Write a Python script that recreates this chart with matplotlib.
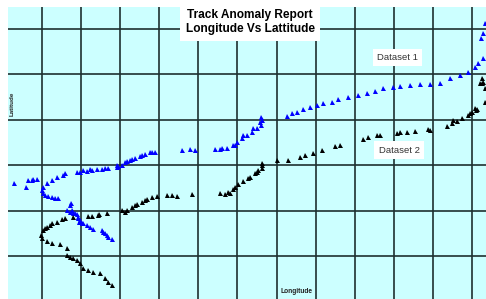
import numpy as np
import matplotlib
matplotlib.use("Agg")
import matplotlib.pyplot as plt
from matplotlib.ticker import MultipleLocator

plt.rcParams['font.family'] = ['Liberation Sans', 'DejaVu Sans']

# grid-cell units (one cell = one grid division)
lon1 = [-0.716, -0.409, -0.358, -0.256, -0.230, -0.128,
        0.537, 0.384, 0.256, 0.128, 0.026, 0.000, 0.026, 0.077, 0.153, 0.256,
        0.333, 0.409, 0.588,
        0.640, 0.716, 0.742, 0.716, 0.767, 0.793, 0.844, 0.895, 0.921, 0.921,
        0.946, 0.972, 1.023, 1.049, 1.151, 1.228, 1.305, 1.535, 1.560, 1.612,
        1.663, 1.688, 1.791, 0.895, 0.972, 1.049, 1.151, 1.228, 1.279, 1.407,
        1.535, 1.612, 1.688, 1.919, 1.919, 1.944, 2.046, 2.123, 2.174, 2.251,
        2.302, 2.379, 2.507, 2.558, 2.635, 2.763, 2.814, 2.891, 3.581, 3.786,
        3.914, 4.425, 4.553, 4.604, 4.732, 4.886, 4.937, 4.988, 5.116, 5.142,
        5.244, 5.372, 5.397, 5.500, 5.576, 5.602, 5.628, 5.602, 6.267, 6.395,
        6.523, 6.676, 6.855, 7.035, 7.188, 7.418, 7.572, 7.827, 8.083, 8.314,
        8.518, 8.723, 8.979, 9.158, 9.413, 9.669, 9.925, 10.181, 10.437, 10.692,
        10.897, 11.076, 11.153, 11.230, 11.281, 11.332, 11.281]
lat1 = [1.608, 1.520, 1.674, 1.674, 1.696, 1.696,
        1.784, 1.740, 1.674, 1.608, 1.520, 1.454, 1.388, 1.344, 1.322, 1.300,
        1.278, 1.278, 1.828,
        1.013, 1.124, 1.168, 0.969, 1.013, 0.947, 0.947, 0.925, 0.859, 0.837,
        0.749, 0.793, 0.727, 0.727, 0.683, 0.639, 0.595, 0.573, 0.529, 0.507,
        0.463, 0.419, 0.375, 1.851, 1.851, 1.895, 1.873, 1.917, 1.895, 1.917,
        1.917, 1.939, 1.939, 1.961, 2.005, 1.983, 2.005, 2.071, 2.093, 2.115,
        2.137, 2.159, 2.203, 2.225, 2.247, 2.291, 2.291, 2.291, 2.335, 2.357,
        2.335, 2.357, 2.357, 2.379, 2.379, 2.445, 2.445, 2.511, 2.600, 2.666,
        2.666, 2.732, 2.820, 2.820, 2.952, 2.886, 2.996, 3.062, 3.084, 3.150,
        3.172, 3.238, 3.282, 3.327, 3.371, 3.393, 3.459, 3.503, 3.547, 3.591,
        3.635, 3.701, 3.723, 3.745, 3.767, 3.789, 3.789, 3.811, 3.921, 3.987,
        4.054, 4.164, 4.252, 4.803, 4.913, 5.133, 4.362]

lon2 = [1.663, 1.432, 1.279, 1.177, 0.793, 0.588, 0.512, 0.384, 0.256, 0.205,
        0.128, 0.077, 0.026, -0.026, 0.000, 0.128, 0.256, 0.460, 0.640, 0.640,
        0.716, 0.793, 0.895, 0.972, 1.049, 1.177, 1.305, 1.484, 1.612, 1.688,
        1.791, 1.458, 2.046, 2.123, 2.174, 2.302, 2.379, 2.430, 2.558, 2.635,
        2.686, 2.814, 2.942, 3.198, 3.325, 3.453, 3.837, 4.553, 4.681, 4.758,
        4.809, 4.886, 4.937, 5.014, 5.142, 5.270, 5.321, 5.449, 5.500, 5.525,
        5.628, 5.628, 5.628, 6.011, 6.293, 6.600, 6.728, 6.932, 7.162, 7.495,
        7.623, 8.211, 8.339, 8.569, 8.646, 9.081, 9.158, 9.337, 9.541, 9.874,
        9.925, 10.360, 10.488, 10.616, 10.744, 10.897, 10.999, 11.127, 11.255, 11.281,
        11.255, 11.332, 11.076, 11.204, 11.332, 11.102, 10.948, 10.514]
lat2 = [0.947, 0.903, 0.881, 0.881, 0.859, 0.837, 0.815, 0.749, 0.727, 0.683,
        0.639, 0.617, 0.573, 0.463, 0.397, 0.330, 0.286, 0.264, 0.176, 0.022,
        -0.022, -0.044, -0.088, -0.154, -0.264, -0.308, -0.352, -0.375, -0.485, -0.573,
        -0.639, 0.925, 1.013, 0.969, 1.013, 1.079, 1.124, 1.146, 1.190, 1.234,
        1.256, 1.300, 1.322, 1.344, 1.344, 1.322, 1.366, 1.388, 1.366, 1.410,
        1.388, 1.476, 1.520, 1.586, 1.652, 1.718, 1.740, 1.829, 1.851, 1.895,
        1.939, 2.005, 2.049, 2.115, 2.115, 2.181, 2.225, 2.269, 2.335, 2.423,
        2.445, 2.578, 2.622, 2.666, 2.666, 2.710, 2.732, 2.732, 2.754, 2.798,
        2.776, 2.864, 2.930, 2.974, 3.040, 3.106, 3.172, 3.238, 3.811, 3.833,
        3.921, 3.393, 3.260, 3.811, 3.701, 3.216, 3.150, 2.996]

fig = plt.figure(figsize=(4.86, 2.99), dpi=100)
ax = fig.add_axes([8 / 486, 0, 478 / 486, 292 / 299])
ax.set_facecolor('#ccffff')

ax.plot(lon1, lat1, '^', color='#0000ff', markersize=3.6, markeredgewidth=0)
ax.plot(lon2, lat2, '^', color='black', markersize=3.6, markeredgewidth=0)

ax.set_xlim(-0.87, 11.36)
ax.set_ylim(-0.947, 5.485)
ax.xaxis.set_major_locator(MultipleLocator(1))
ax.yaxis.set_major_locator(MultipleLocator(1))
ax.grid(True, color='#1e3030', linewidth=1.2)
ax.set_axisbelow(True)
ax.tick_params(length=0, labelbottom=False, labelleft=False)
for s in ax.spines.values():
    s.set_visible(False)

fig.text(250 / 486, 1 - 22 / 299, 'Track Anomaly Report\nLongitude Vs Lattitude',
         ha='center', va='center', fontsize=8.6, fontweight='bold', linespacing=1.25,
         bbox=dict(facecolor='white', edgecolor='none', pad=4))
ax.text(0.815, 0.826, 'Dataset 1', transform=ax.transAxes, ha='center', va='center',
        fontsize=6.8, color='#333333',
        bbox=dict(facecolor='white', edgecolor='none', pad=3))
ax.text(0.818, 0.510, 'Dataset 2', transform=ax.transAxes, ha='center', va='center',
        fontsize=6.8, color='#333333',
        bbox=dict(facecolor='white', edgecolor='none', pad=3))
ax.text(0.008, 0.67, 'Latitude', transform=ax.transAxes, ha='center', va='center',
        rotation=90, fontsize=4.5, fontweight='bold', color='#222222')
ax.text(0.603, 0.027, 'Longitude', transform=ax.transAxes, ha='center', va='center',
        fontsize=4.8, fontweight='bold', color='#222222')

fig.savefig('out.png', dpi=100)
